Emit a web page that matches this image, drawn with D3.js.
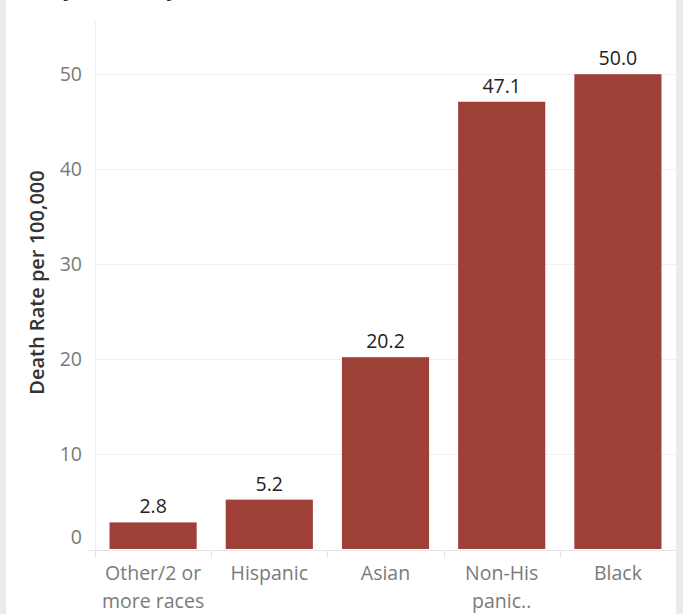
<!DOCTYPE html>
<html><head><meta charset="utf-8">
<script src="https://cdn.jsdelivr.net/npm/d3@7"></script>
<style>
html,body{margin:0;padding:0;background:#ebebeb;}
svg{display:block;}
</style></head>
<body>
<svg id="chart" width="683" height="614"></svg>
<script>
const categories = ["Other/2 or more races", "Hispanic", "Asian", "Non-Hispanic", "Black"];
const categoryLines = [["Other/2 or", "more races"], ["Hispanic"], ["Asian"], ["Non-His", "panic.."], ["Black"]];
const values = [2.8, 5.2, 20.2, 47.1, 50.0];
const yTicks = [0, 10, 20, 30, 40, 50];
const yTitle = "Death Rate per 100,000";
const titleText = "by Ethnicity, 2020";

const svg = d3.select("#chart");
const font = "'Open Sans', sans-serif";

svg.append("rect").attr("x", 6).attr("y", 0).attr("width", 670).attr("height", 614).attr("fill", "#fff");

svg.append("text").attr("x", 49).attr("y", -3.8).attr("font-family", font)
  .attr("font-weight", "bold").attr("font-size", 22).attr("fill", "#222").text(titleText);

const pLeft = 95, pRight = 676, pTop = 22, pBottom = 549;
const x = d3.scaleBand().domain(categories).range([pLeft, pRight]).paddingInner(0.25).paddingOuter(0.125);
const y = d3.scaleLinear().domain([0, 55.5]).range([pBottom, pTop]);

// gridlines
svg.append("g").selectAll("line").data(yTicks.filter(d => d > 0)).join("line")
  .attr("x1", pLeft).attr("x2", pRight)
  .attr("y1", d => Math.round(y(d)) + 0.5).attr("y2", d => Math.round(y(d)) + 0.5)
  .attr("stroke", "#f0f0f0").attr("stroke-width", 1);

// y axis
const yAxis = svg.append("g").attr("transform", `translate(${pLeft},0)`)
  .call(d3.axisLeft(y).tickValues(yTicks).tickSize(0).tickPadding(13));
yAxis.select(".domain").attr("stroke", "#ececec").attr("d", `M0.5,${pTop}V${pBottom}`);
yAxis.selectAll("text").attr("font-family", font).attr("font-size", 19.5).attr("fill", "#7a7a7a")
  .attr("dy", d => d === 0 ? "-0.28em" : "0.34em");

// bars
svg.append("g").selectAll("rect").data(values).join("rect")
  .attr("x", (d, i) => x(categories[i])).attr("width", x.bandwidth())
  .attr("y", d => y(d)).attr("height", d => y(0) - y(d))
  .attr("fill", "#9e4038");

// value labels
svg.append("g").selectAll("text").data(values).join("text")
  .attr("x", (d, i) => x(categories[i]) + x.bandwidth() / 2)
  .attr("y", d => y(d) - 9)
  .attr("text-anchor", "middle").attr("font-family", font).attr("font-size", 19.5).attr("fill", "#222")
  .text(d => d.toFixed(1));

// x axis
const xAxis = svg.append("g").attr("transform", `translate(0,${pBottom})`);
xAxis.append("line").attr("x1", pLeft - 8).attr("x2", pRight).attr("y1", 1.5).attr("y2", 1.5)
  .attr("stroke", "#e4e4e4");
const dividers = categories.map(c => x(c) - x.step() * x.paddingInner() / 2);
xAxis.selectAll("line.div").data(dividers).join("line").attr("class", "div")
  .attr("x1", d => Math.round(d) + 0.5).attr("x2", d => Math.round(d) + 0.5)
  .attr("y1", 1).attr("y2", 9).attr("stroke", "#e4e4e4");
const lbl = xAxis.selectAll("text.lbl").data(categories).join("text").attr("class", "lbl")
  .attr("text-anchor", "middle").attr("font-family", font).attr("font-size", 19.5).attr("fill", "#7a7a7a")
  .attr("transform", c => `translate(${x(c) + x.bandwidth() / 2},31)`);
lbl.selectAll("tspan").data((c, i) => categoryLines[i]).join("tspan")
  .attr("x", 0).attr("y", (d, j) => j * 28).text(d => d);

// y title
svg.append("text").attr("transform", `translate(44,${(170 + 395) / 2}) rotate(-90)`)
  .attr("text-anchor", "middle").attr("font-family", font).attr("font-weight", 600)
  .attr("font-size", 20).attr("fill", "#333").text(yTitle);
</script>
</body></html>
